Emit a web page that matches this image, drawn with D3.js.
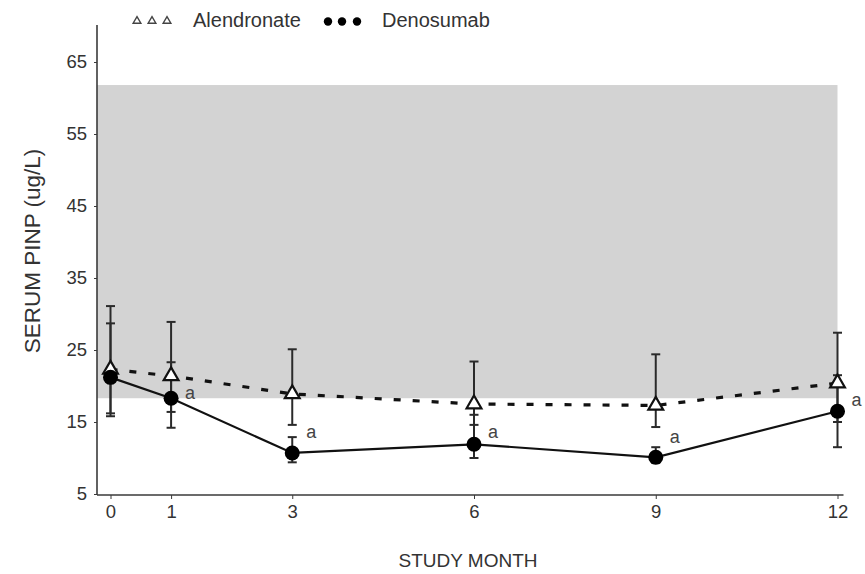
<!DOCTYPE html>
<html>
<head>
<meta charset="utf-8">
<script src="https://cdn.jsdelivr.net/npm/d3@7"></script>
<style>
  html, body { margin: 0; padding: 0; background: #fff; }
  svg { display: block; font-family: "Liberation Sans", Arial, sans-serif; }
</style>
</head>
<body>
<svg id="chart" width="865" height="574"></svg>
<script>
// Study visits (months) and serum PINP (ug/L) per treatment arm
const months = [0, 1, 3, 6, 9, 12];
const xTickLabels = ["0", "1", "3", "6", "9", "12"];
const yTicks = [5, 15, 25, 35, 45, 55, 65];

const alendronateMean  = [22.3, 21.4, 18.9, 17.5, 17.3, 20.4];
const alendronateUpper = [31.1, 28.9, 25.1, 23.4, 24.4, 27.4];
const alendronateLower = [16.2, 16.4, 14.6, 14.6, 14.3, 15.0];

const denosumabMean  = [21.2, 18.3, 10.7, 11.9, 10.1, 16.5];
const denosumabUpper = [28.7, 23.3, 12.9, 16.0, 11.5, 21.5];
const denosumabLower = [15.8, 14.2, 9.4, 10.0, 9.3, 11.5];

// Premenopausal reference interval (shaded band)
const referenceRange = [18.3, 61.8];

// Significance marks next to denosumab values (month, label height in ug/L)
const sigMonths = [1, 3, 6, 9, 12];
const sigLabelValue = [19.0, 13.6, 13.6, 12.9, 18.1];

const svg = d3.select("#chart");
const axisColor = "#3a3a3a";
const textColor = "#333";

const x = d3.scaleLinear().domain([0, 12]).range([110.5, 837.5]);
const y = d3.scaleLinear().domain([5, 70]).range([494, 26]);
const axisX = 97;
const axisY = y(5) + 1;

// Reference band
svg.append("rect")
  .attr("x", axisX)
  .attr("y", y(referenceRange[1]))
  .attr("width", x(12) - axisX)
  .attr("height", y(referenceRange[0]) - y(referenceRange[1]))
  .attr("fill", "#d3d3d3");

// Axes
const yAxis = d3.axisLeft(y).tickValues(yTicks).tickSize(3).tickPadding(7);
const gy = svg.append("g").attr("transform", `translate(${axisX},0)`).call(yAxis);
gy.select(".domain").remove();
gy.selectAll(".tick line").attr("stroke", axisColor);
gy.selectAll(".tick text").attr("fill", textColor).style("font-size", "18.5px");

const xAxis = d3.axisBottom(x).tickValues(months).tickFormat((d, i) => xTickLabels[i]).tickSize(4).tickPadding(6);
const gx = svg.append("g").attr("transform", `translate(0,${axisY})`).call(xAxis);
gx.select(".domain").remove();
gx.selectAll(".tick line").attr("stroke", axisColor);
gx.selectAll(".tick text").attr("fill", textColor).style("font-size", "18.5px");

svg.append("line")
  .attr("x1", axisX).attr("x2", axisX)
  .attr("y1", y(70) - 1).attr("y2", axisY)
  .attr("stroke", axisColor).attr("stroke-width", 1.6);
svg.append("line")
  .attr("x1", axisX).attr("x2", x(12) + 6)
  .attr("y1", axisY).attr("y2", axisY)
  .attr("stroke", axisColor).attr("stroke-width", 1.6);

// Axis titles
svg.append("text")
  .attr("x", 468).attr("y", 567)
  .attr("text-anchor", "middle")
  .attr("fill", textColor)
  .style("font-size", "19px")
  .text("STUDY MONTH");

svg.append("text")
  .attr("transform", `translate(40,251) rotate(-90)`)
  .attr("text-anchor", "middle")
  .attr("fill", textColor)
  .style("font-size", "22.5px")
  .text("SERUM PINP (ug/L)");

// Error bars
function errorBars(lower, upper, cls) {
  const g = svg.append("g").attr("class", cls);
  const idx = d3.range(months.length);
  g.selectAll("line.stem").data(idx).join("line")
    .attr("x1", i => x(months[i])).attr("x2", i => x(months[i]))
    .attr("y1", i => y(upper[i])).attr("y2", i => y(lower[i]))
    .attr("stroke", "#2a2a2a").attr("stroke-width", 2);
  g.selectAll("line.capTop").data(idx).join("line")
    .attr("x1", i => x(months[i]) - 4.5).attr("x2", i => x(months[i]) + 4.5)
    .attr("y1", i => y(upper[i])).attr("y2", i => y(upper[i]))
    .attr("stroke", "#2a2a2a").attr("stroke-width", 2);
  g.selectAll("line.capBot").data(idx).join("line")
    .attr("x1", i => x(months[i]) - 4.5).attr("x2", i => x(months[i]) + 4.5)
    .attr("y1", i => y(lower[i])).attr("y2", i => y(lower[i]))
    .attr("stroke", "#2a2a2a").attr("stroke-width", 2);
}
errorBars(alendronateLower, alendronateUpper, "err-aln");
errorBars(denosumabLower, denosumabUpper, "err-dmab");

// Series lines
const line = d3.line().x(d => x(d[0])).y(d => y(d[1]));
svg.append("path")
  .datum(months.map((m, i) => [m, alendronateMean[i]]))
  .attr("d", line)
  .attr("fill", "none")
  .attr("stroke", "#111")
  .attr("stroke-width", 3.2)
  .attr("stroke-dasharray", "7,12");
svg.append("path")
  .datum(months.map((m, i) => [m, denosumabMean[i]]))
  .attr("d", line)
  .attr("fill", "none")
  .attr("stroke", "#111")
  .attr("stroke-width", 2.2);

// Markers
const tri = d3.symbol().type(d3.symbolTriangle).size(95);
svg.append("g").selectAll("path")
  .data(months.map((m, i) => [m, alendronateMean[i]]))
  .join("path")
  .attr("d", tri)
  .attr("transform", d => `translate(${x(d[0])},${y(d[1])})`)
  .attr("fill", "#fff")
  .attr("stroke", "#111")
  .attr("stroke-width", 2.2);

svg.append("g").selectAll("circle")
  .data(months.map((m, i) => [m, denosumabMean[i]]))
  .join("circle")
  .attr("cx", d => x(d[0]))
  .attr("cy", d => y(d[1]))
  .attr("r", 7.5)
  .attr("fill", "#000");

// Significance marks
svg.append("g").selectAll("text")
  .data(sigMonths.map((m, i) => [m, sigLabelValue[i]]))
  .join("text")
  .attr("x", d => x(d[0]) + 14)
  .attr("y", d => y(d[1]) + 6)
  .attr("fill", "#444")
  .style("font-size", "18px")
  .text("a");

// Legend
const legend = svg.append("g");
const legTri = d3.symbol().type(d3.symbolTriangle).size(26);
[137, 152, 167].forEach(cx => {
  legend.append("path").attr("d", legTri)
    .attr("transform", `translate(${cx},21)`)
    .attr("fill", "#fff").attr("stroke", "#444").attr("stroke-width", 1.4);
});
legend.append("text").attr("x", 193).attr("y", 27)
  .attr("fill", textColor).style("font-size", "20px").text("Alendronate");
[328, 342, 357].forEach(cx => {
  legend.append("circle").attr("cx", cx).attr("cy", 21.5).attr("r", 4.2).attr("fill", "#000");
});
legend.append("text").attr("x", 382).attr("y", 27)
  .attr("fill", textColor).style("font-size", "20px").text("Denosumab");
</script>
</body>
</html>
